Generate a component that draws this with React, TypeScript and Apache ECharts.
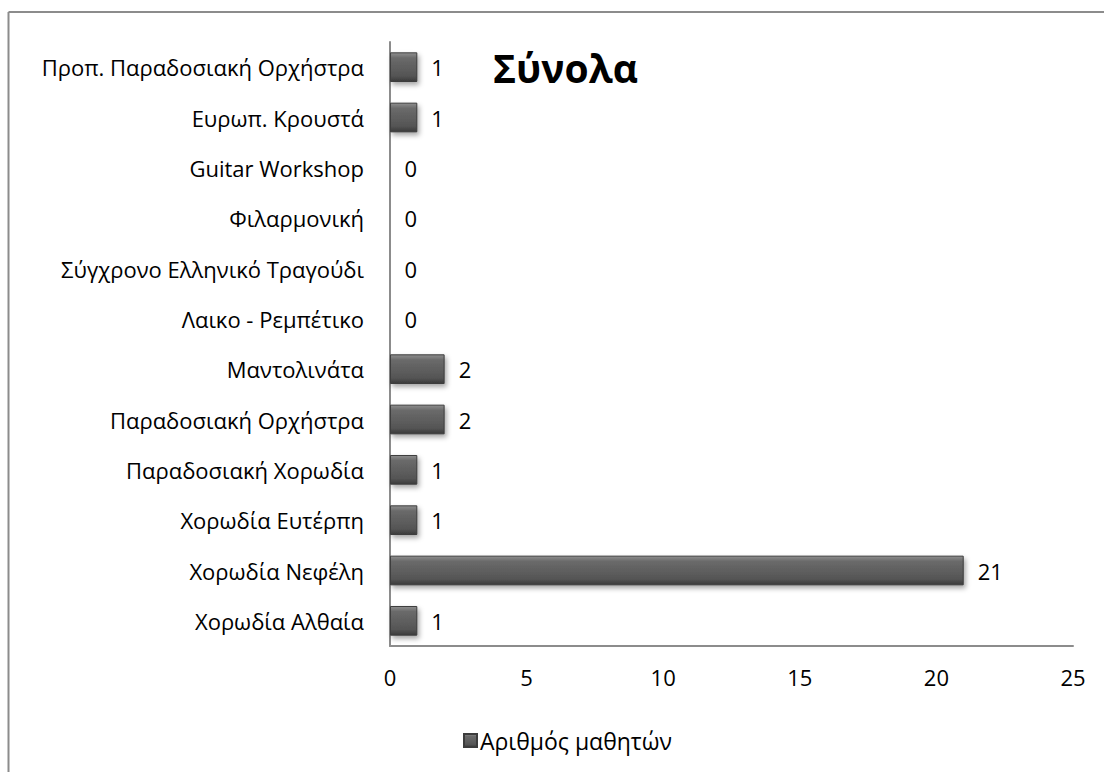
import React, { useEffect, useRef } from "react";
import * as echarts from "echarts";

const categories = [
  "Χορωδία Αλθαία",
  "Χορωδία Νεφέλη",
  "Χορωδία Ευτέρπη",
  "Παραδοσιακή Χορωδία",
  "Παραδοσιακή Ορχήστρα",
  "Μαντολινάτα",
  "Λαικο - Ρεμπέτικο",
  "Σύγχρονο Ελληνικό Τραγούδι",
  "Φιλαρμονική",
  "Guitar Workshop",
  "Ευρωπ. Κρουστά",
  "Προπ. Παραδοσιακή Ορχήστρα",
];
const values = [1, 21, 1, 1, 2, 2, 0, 0, 0, 0, 1, 1];
const seriesName = "Αριθμός μαθητών";
const title = "Σύνολα";
const xTicks = { min: 0, max: 25, interval: 5 };

const FONT = "'Open Sans', 'Noto Sans', sans-serif";

export default function App() {
  const ref = useRef<HTMLDivElement>(null);
  useEffect(() => {
    if (!ref.current) return;
    const chart = echarts.init(ref.current, null, { renderer: "svg" });
    const barColor = new echarts.graphic.LinearGradient(0, 0, 0, 1, [
      { offset: 0, color: "#8e8e8e" },
      { offset: 0.18, color: "#6a6a6a" },
      { offset: 0.8, color: "#555555" },
      { offset: 1, color: "#3a3a3a" },
    ]);
    chart.setOption({
      animation: false,
      backgroundColor: "#ffffff",
      title: {
        text: title,
        left: 488,
        top: 43,
        textStyle: { fontFamily: FONT, fontSize: 39, fontWeight: "bold", color: "#000" },
      },
      legend: {
        data: [seriesName],
        left: 458,
        top: 724,
        itemWidth: 13,
        itemHeight: 13,
        itemGap: 4,
        icon: "rect",
        textStyle: { fontFamily: FONT, fontSize: 23, color: "#000", padding: [0, 0, 0, -2] },
      },
      grid: { left: 390, right: 31, top: 42, bottom: 126, containLabel: false },
      xAxis: {
        type: "value",
        min: xTicks.min,
        max: xTicks.max,
        interval: xTicks.interval,
        axisLine: { show: true, lineStyle: { color: "#8c8c8c", width: 2 } },
        axisTick: { show: false },
        splitLine: { show: false },
        axisLabel: { fontFamily: FONT, fontSize: 22, color: "#000", margin: 20 },
      },
      yAxis: {
        type: "category",
        data: categories,
        axisLine: { show: true, lineStyle: { color: "#8c8c8c", width: 2 } },
        axisTick: { show: false },
        axisLabel: { fontFamily: FONT, fontSize: 22, color: "#000", margin: 26 },
      },
      series: [
        {
          name: seriesName,
          type: "bar",
          data: values,
          barWidth: "59%",
          itemStyle: {
            color: barColor,
            borderColor: "#3c3c3c",
            borderWidth: 1,
            shadowColor: "rgba(0,0,0,0.35)",
            shadowBlur: 5,
            shadowOffsetX: 2,
            shadowOffsetY: 3,
          },
          label: {
            show: true,
            position: "right",
            distance: 14,
            fontFamily: FONT,
            fontSize: 22,
            color: "#000",
          },
        },
      ],
      graphic: [
        { type: "line", shape: { x1: 8.5, y1: 12, x2: 1104, y2: 12 }, style: { stroke: "#8c8c8c", lineWidth: 2 } },
        { type: "line", shape: { x1: 8.5, y1: 12, x2: 8.5, y2: 772 }, style: { stroke: "#8c8c8c", lineWidth: 2 } },
      ],
    });
    return () => chart.dispose();
  }, []);
  return <div ref={ref} style={{ width: 1104, height: 772, position: "absolute", left: 0, top: 0 }} />;
}
